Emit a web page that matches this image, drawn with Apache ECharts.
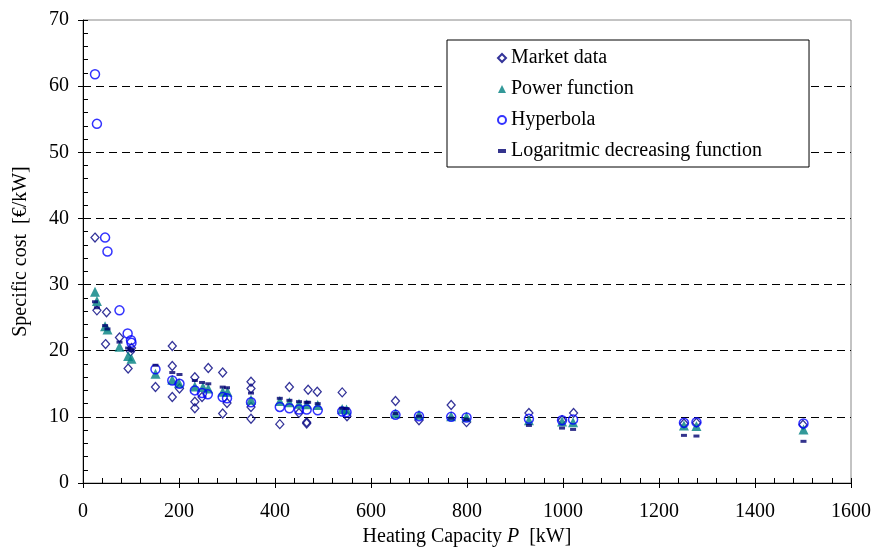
<!DOCTYPE html>
<html>
<head>
<meta charset="utf-8">
<script src="https://cdn.jsdelivr.net/npm/echarts@6/dist/echarts.min.js"></script>
<style>html,body{margin:0;padding:0;background:#fff}#c{width:877px;height:547px}</style>
</head>
<body>
<div id="c"></div>
<script>
// ---- data ----
const marketX = [25,29,49,47,76,94,101,99,151,186,186,186,201,233,233,233,248,261,291,291,300,350,350,350,350,410,430,450,466,466,469,488,540,550,651,700,767,799,929,998,1022,1252,1278,1500];
const marketY = [37.1,26.1,25.8,21.0,22.0,17.3,20.4,19.9,14.5,20.7,17.7,13.0,14.3,16.0,12.3,11.3,13.0,17.4,16.7,10.5,12.1,15.3,14.3,11.5,9.7,8.9,14.5,10.6,9.2,9.0,14.1,13.8,13.7,10.1,12.4,9.5,11.8,9.2,10.6,9.5,10.6,9.0,9.1,8.8];

const powerX = [25,29,46,51,76,94,101,151,186,200,233,250,261,291,301,350,410,430,450,466,489,540,549,651,700,767,799,929,998,1021,1252,1278,1501];
const powerY = [28.9,27.5,23.7,23.2,20.6,19.2,18.8,16.5,15.6,15.1,14.6,14.5,14.3,13.8,13.8,12.6,12.4,12.2,12.0,11.9,11.8,11.2,11.1,10.5,10.3,10.1,10.0,9.5,9.3,9.2,8.7,8.6,8.1];

const hyperX = [25,29,46,51,76,93,100,101,151,186,201,233,248,260,291,300,350,410,430,450,466,489,540,549,651,700,767,799,929,998,1021,1252,1278,1501];
const hyperY = [61.8,54.3,37.1,35.0,26.1,22.6,21.6,21.2,17.2,15.5,15.0,14.0,13.6,13.4,13.0,12.8,12.2,11.5,11.3,11.1,11.1,11.0,10.8,10.7,10.3,10.1,10.0,9.9,9.7,9.5,9.6,9.1,9.2,9.0];

const logX = [25,29,46,51,76,94,100,101,151,186,201,233,248,261,291,300,350,410,430,450,466,469,489,540,549,651,700,767,799,929,998,1021,1252,1278,1501];
const logY = [27.4,26.5,23.8,23.3,21.3,20.4,20.2,20.0,17.8,16.7,16.4,15.5,15.2,15.0,14.5,14.4,13.6,12.8,12.5,12.3,12.2,12.2,12.0,11.3,11.25,10.5,10.1,9.8,9.6,8.7,8.3,8.1,7.2,7.1,6.3];

const seriesNames = ['Market data','Power function','Hyperbola','Logaritmic decreasing function'];
const xTicks = {min:0, max:1600, interval:200};
const yTicks = {min:0, max:70, interval:10};

function pairs(xs, ys){ return xs.map((x,i)=>[x, ys[i]]); }

const FONT = 'Liberation Serif';
const FS = 20;
const chart = echarts.init(document.getElementById('c'), null, {renderer:'canvas'});

const option = {
  animation:false,
  backgroundColor:'#fff',
  grid:{left:83, right:26, top:20, bottom:64, outerBoundsMode:'none', containLabel:false,
        show:true, borderColor:'#888', borderWidth:1},
  legend:{
    orient:'vertical', left:447, top:40,
    padding:[8,47,6,50],
    backgroundColor:'#fff', borderColor:'#000', borderWidth:1,
    itemWidth:8, itemHeight:8, itemGap:11,
    textStyle:{fontFamily:FONT, fontSize:FS, color:'#000', lineHeight:20},
    data:[
      {name:seriesNames[0]},
      {name:seriesNames[1]},
      {name:seriesNames[2]},
      {name:seriesNames[3], icon:'path://M0,0 L6,0 L6,3 L0,3 Z'}
    ]
  },
  xAxis:[{
    type:'value', min:xTicks.min, max:xTicks.max, interval:xTicks.interval,
    axisLine:{show:true, onZero:false, lineStyle:{color:'#000', width:1}},
    axisTick:{show:true, inside:true, length:5, lineStyle:{color:'#000'}},
    minorTick:{show:true, splitNumber:5, length:5, lineStyle:{color:'#000'}},
    splitLine:{show:false},
    axisLabel:{fontFamily:FONT, fontSize:FS, color:'#000', margin:19, formatter:v=>String(v)},
    name:'{a|Heating Capacity }{i|P}{a|  [kW]}',
    nameLocation:'middle', nameGap:39,
    nameTextStyle:{rich:{a:{fontFamily:FONT, fontSize:FS, color:'#000'}, i:{fontFamily:FONT, fontSize:FS, fontStyle:'italic', color:'#000'}}}
  },{
    type:'value', min:xTicks.min, max:xTicks.max, interval:xTicks.interval, position:'bottom',
    axisLine:{show:false}, axisTick:{show:true, inside:false, length:5, lineStyle:{color:'#000'}},
    axisLabel:{show:false}, splitLine:{show:false}
  }],
  yAxis:[{
    type:'value', min:yTicks.min, max:yTicks.max, interval:yTicks.interval,
    axisLine:{show:true, onZero:false, lineStyle:{color:'#000', width:1}},
    axisTick:{show:true, inside:true, length:5, lineStyle:{color:'#000'}},
    minorTick:{show:true, splitNumber:5, length:5, lineStyle:{color:'#000'}},
    splitLine:{show:true, showMinLine:false, showMaxLine:false, lineStyle:{color:'#000', type:[8,5], width:1}},
    axisLabel:{fontFamily:FONT, fontSize:FS, color:'#000', margin:14},
    name:'Specific cost  [€/kW]', nameLocation:'middle', nameGap:52,
    nameTextStyle:{fontFamily:FONT, fontSize:FS, color:'#000'}
  },{
    type:'value', min:yTicks.min, max:yTicks.max, interval:yTicks.interval, position:'left',
    axisLine:{show:false}, axisTick:{show:true, inside:false, length:5, lineStyle:{color:'#000'}},
    axisLabel:{show:false}, splitLine:{show:false}
  }],
  series:[
    {name:seriesNames[0], type:'scatter', data:pairs(marketX, marketY), symbol:'diamond', symbolSize:[8,9],
     itemStyle:{color:'rgba(255,255,255,0)', borderColor:'#000080', borderWidth:1.3}},
    {name:seriesNames[1], type:'scatter', data:pairs(powerX, powerY), symbol:'triangle', symbolSize:[10,10],
     itemStyle:{color:'#008080'}},
    {name:seriesNames[2], type:'scatter', data:pairs(hyperX, hyperY), symbol:'circle', symbolSize:9,
     itemStyle:{color:'rgba(255,255,255,0)', borderColor:'#0000ff', borderWidth:1.5}},
    {name:seriesNames[3], type:'scatter', data:pairs(logX, logY), symbol:'rect', symbolSize:[6,3],
     itemStyle:{color:'#000070'}}
  ]
};
chart.setOption(option);
</script>
</body>
</html>
